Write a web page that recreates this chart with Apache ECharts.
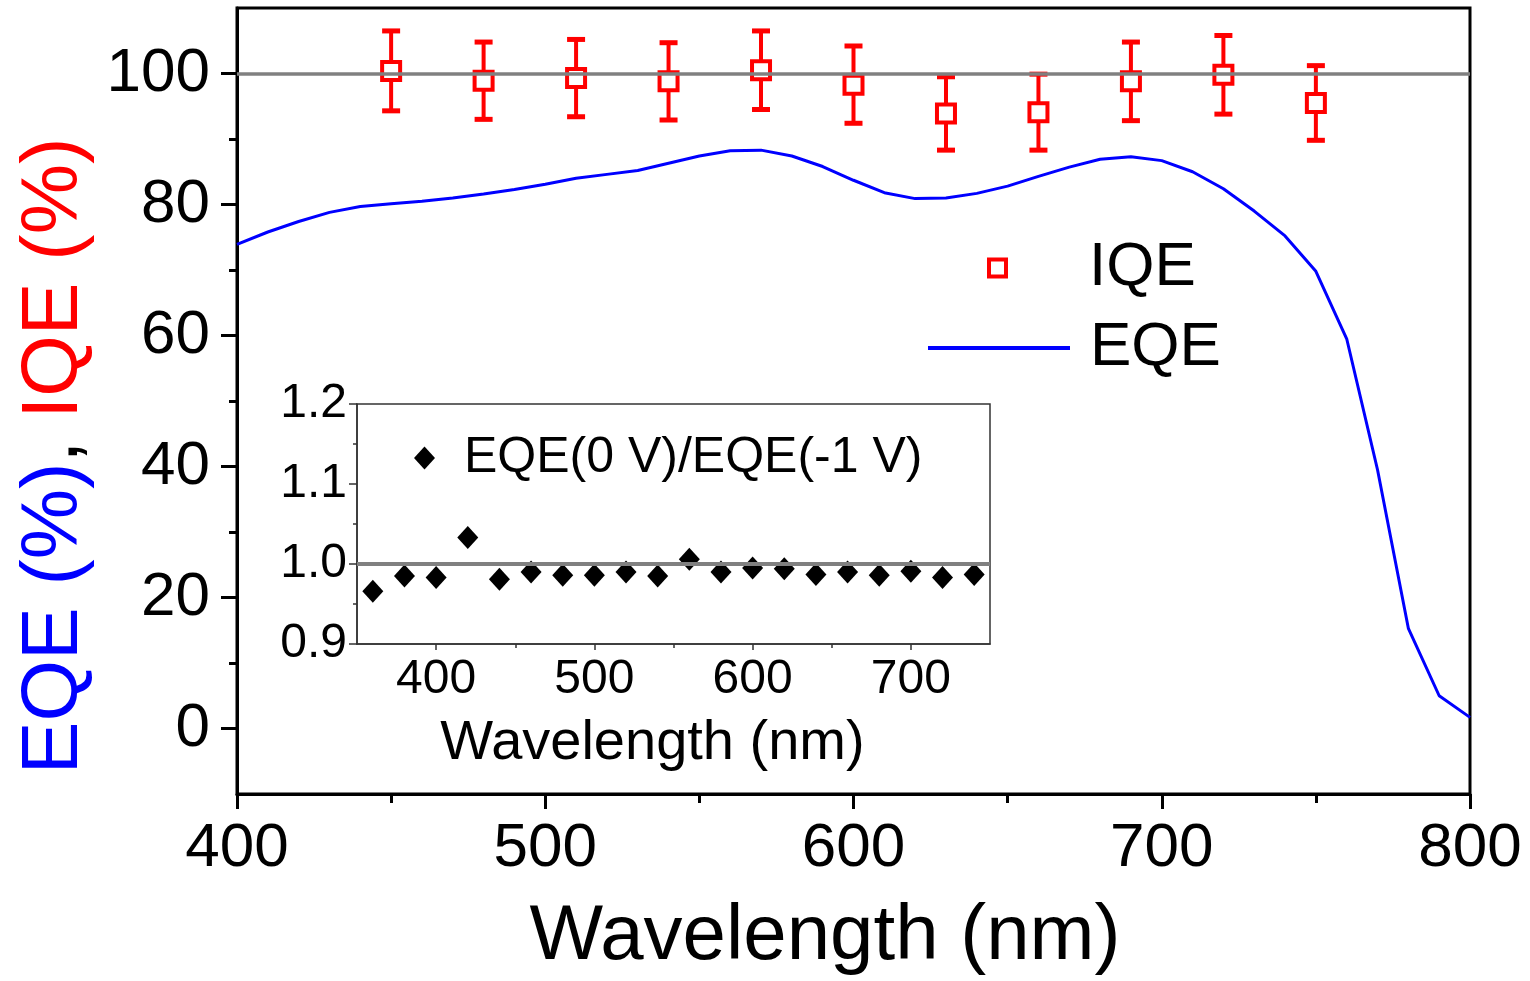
<!DOCTYPE html>
<html>
<head>
<meta charset="utf-8">
<script src="https://cdn.jsdelivr.net/npm/echarts@6/dist/echarts.min.js"></script>
<style>
html,body{margin:0;padding:0;background:#fff;}
#chart{width:1530px;height:981px;}
</style>
</head>
<body>
<div id="chart"></div>
<script>
// ---- data ----
const eqeWl = [400,410,420,430,440,450,460,470,480,490,500,510,520,530,540,550,560,570,580,590,600,610,620,630,640,650,660,670,680,690,700,710,720,730,740,750,760,770,780,790,800];
const eqeVal = [73.9,75.8,77.4,78.8,79.7,80.1,80.5,81.0,81.6,82.3,83.1,84.0,84.6,85.2,86.3,87.4,88.2,88.3,87.4,85.8,83.7,81.8,80.9,81.0,81.7,82.8,84.3,85.7,86.9,87.3,86.7,85.0,82.4,79.0,75.2,69.8,59.5,39.5,15.3,5.0,1.7];

const iqeWl = [450,480,510,540,570,600,630,660,690,720,750];
const iqeVal = [100.4,98.9,99.3,98.8,100.5,98.3,93.9,94.1,98.8,99.8,95.5];
const iqeErr = [6.1,5.9,5.9,5.9,6.0,5.9,5.6,5.8,6.0,6.0,5.7];

const ratioWl = [360,380,400,420,440,460,480,500,520,540,560,580,600,620,640,660,680,700,720,740];
const ratioVal = [0.966,0.985,0.983,1.033,0.981,0.990,0.986,0.986,0.990,0.985,1.006,0.990,0.995,0.994,0.987,0.990,0.986,0.991,0.983,0.987];

const mainYTicks = [0,20,40,60,80,100];
const mainYMinor = [10,30,50,70,90];
const insetXTicks = [400,500,600,700];
const insetXMinor = [450,550,650];

// ---- chart ----
const FF = '"Liberation Sans", Arial, sans-serif';
const chart = echarts.init(document.getElementById('chart'), null, {renderer:'canvas'});
const zip = (a,b) => a.map((v,i)=>[v,b[i]]);

const option = {
  animation:false,
  backgroundColor:'#fff',
  textStyle:{fontFamily:FF, color:'#000'},
  grid:[
    {left:237, top:8, width:1233, height:790, show:true, borderColor:'#000', borderWidth:3, backgroundColor:'transparent'},
    {left:357, top:404, width:633, height:240, show:true, borderColor:'#333', borderWidth:1.5, backgroundColor:'#fff'}
  ],
  xAxis:[
    {gridIndex:0, type:'value', position:'bottom', min:400, max:800, interval:100,
     axisLine:{show:true, onZero:false, lineStyle:{color:'#000', width:3}},
     axisTick:{show:true, inside:false, length:15, lineStyle:{color:'#000', width:3}},
     minorTick:{show:true, splitNumber:2, length:9, lineStyle:{color:'#000', width:3}},
     splitLine:{show:false},
     axisLabel:{fontSize:62, margin:24, color:'#000', fontFamily:FF},
     name:'Wavelength (nm)', nameLocation:'middle', nameGap:104,
     nameTextStyle:{fontSize:78, color:'#000', fontFamily:FF, padding:[0,57,0,0]}},
    {gridIndex:1, type:'value', position:'bottom', min:350, max:750,
     axisLine:{show:true, onZero:false, lineStyle:{color:'#333', width:1.5}},
     axisTick:{show:true, customValues:insetXTicks, length:6, lineStyle:{color:'#333', width:1.5}},
     splitLine:{show:false},
     axisLabel:{customValues:insetXTicks, fontSize:48, margin:12, color:'#000', fontFamily:FF},
     name:'Wavelength (nm)', nameLocation:'middle', nameGap:72,
     nameTextStyle:{fontSize:56, color:'#000', fontFamily:FF, padding:[0,42,0,0]}},
    {gridIndex:1, type:'value', position:'bottom', min:350, max:750,
     axisLine:{show:false, onZero:false},
     axisTick:{show:true, customValues:insetXMinor, length:4, lineStyle:{color:'#333', width:1.5}},
     splitLine:{show:false}, axisLabel:{show:false}}
  ],
  yAxis:[
    {gridIndex:0, type:'value', position:'left', min:-10, max:110,
     axisLine:{show:true, onZero:false, lineStyle:{color:'#000', width:3}},
     axisTick:{show:true, customValues:mainYTicks, length:16, lineStyle:{color:'#000', width:3}},
     splitLine:{show:false},
     axisLabel:{customValues:mainYTicks, fontSize:62, margin:27, color:'#000', fontFamily:FF},
     name:'{b|EQE (%)}{k|, }{r|IQE (%)}', nameLocation:'middle', nameRotate:90, nameGap:142,
     nameTextStyle:{fontSize:79, fontFamily:FF, padding:[0,110,0,0],
       rich:{b:{color:'#0000ff', fontSize:79, fontFamily:FF},
             k:{color:'#000', fontSize:79, fontFamily:FF},
             r:{color:'#ff0000', fontSize:79, fontFamily:FF}}}},
    {gridIndex:0, type:'value', position:'left', min:-10, max:110,
     axisLine:{show:false, onZero:false},
     axisTick:{show:true, customValues:mainYMinor, length:8, lineStyle:{color:'#000', width:3}},
     splitLine:{show:false}, axisLabel:{show:false}},
    {gridIndex:1, type:'value', position:'left', min:0.9, max:1.2, interval:0.1,
     axisLine:{show:true, onZero:false, lineStyle:{color:'#333', width:1.5}},
     axisTick:{show:true, length:8, lineStyle:{color:'#333', width:1.5}},
     minorTick:{show:true, splitNumber:2, length:4, lineStyle:{color:'#333', width:1.5}},
     splitLine:{show:false},
     axisLabel:{fontSize:48, margin:10, color:'#000', fontFamily:FF, formatter:v=>v.toFixed(1)}}
  ],
  legend:[
    {data:['IQE'], left:987, top:237, padding:0, itemWidth:17, itemHeight:17,
     itemStyle:{color:'#fff', borderColor:'#ff0000', borderWidth:4},
     textStyle:{fontSize:62, lineHeight:62, color:'#000', fontFamily:FF, padding:[0,0,0,78]}},
    {data:[{name:'EQE', icon:'rect'}], left:928, top:317, padding:0, itemWidth:142, itemHeight:4,
     itemStyle:{color:'#0000ff', borderWidth:0},
     textStyle:{fontSize:62, lineHeight:62, color:'#000', fontFamily:FF, padding:[0,0,0,15]}},
    {data:['EQE(0 V)/EQE(-1 V)'], left:414, top:433, padding:0, itemWidth:21, itemHeight:23,
     textStyle:{fontSize:50, lineHeight:50, color:'#000', fontFamily:FF, padding:[0,0,0,24]}}
  ],
  series:[
    {name:'EQE', type:'line', xAxisIndex:0, yAxisIndex:0, data:zip(eqeWl,eqeVal),
     symbol:'none', smooth:false, lineStyle:{color:'#0000ff', width:3}, itemStyle:{color:'#0000ff'}, z:2,
     markLine:{silent:true, symbol:['none','none'], label:{show:false},
       lineStyle:{color:'#808080', width:3.5, type:'solid'}, emphasis:{disabled:true},
       data:[{yAxis:100}]}},
    {name:'IQEerr', type:'custom', xAxisIndex:0, yAxisIndex:0, z:3,
     data:iqeWl.map((w,i)=>[w,iqeVal[i],iqeErr[i]]),
     encode:{x:0, y:1},
     renderItem:function(params, api){
       const x=api.value(0), y=api.value(1), e=api.value(2);
       const t=api.coord([x,y+e]), b=api.coord([x,y-e]);
       const hw=9;
       return {type:'group', children:[
         {type:'line', shape:{x1:t[0],y1:t[1],x2:b[0],y2:b[1]}, style:{stroke:'#ff0000', lineWidth:4}},
         {type:'line', shape:{x1:t[0]-hw,y1:t[1],x2:t[0]+hw,y2:t[1]}, style:{stroke:'#ff0000', lineWidth:5}},
         {type:'line', shape:{x1:b[0]-hw,y1:b[1],x2:b[0]+hw,y2:b[1]}, style:{stroke:'#ff0000', lineWidth:5}}
       ]};
     }},
    {name:'IQE', type:'scatter', xAxisIndex:0, yAxisIndex:0, data:zip(iqeWl,iqeVal),
     symbol:'rect', symbolSize:18, z:4,
     itemStyle:{color:'#fff', borderColor:'#ff0000', borderWidth:4, opacity:1}},
    {name:'EQE(0 V)/EQE(-1 V)', type:'scatter', xAxisIndex:1, yAxisIndex:2, data:zip(ratioWl,ratioVal),
     symbol:'diamond', symbolSize:[21,23], z:5,
     itemStyle:{color:'#000', opacity:1},
     markLine:{silent:true, symbol:['none','none'], label:{show:false}, z:6,
       lineStyle:{color:'#808080', width:4, type:'solid'}, emphasis:{disabled:true},
       data:[{yAxis:1.0}]}}
  ]
};
chart.setOption(option);
</script>
</body>
</html>
